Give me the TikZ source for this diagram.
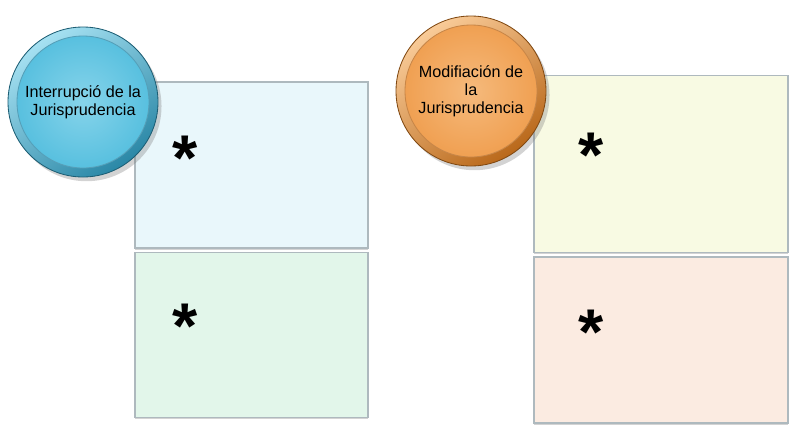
\documentclass[tikz,border=0pt]{standalone}
\usepackage{fontspec}
\setmainfont{Liberation Sans}
\usetikzlibrary{shadows}

\definecolor{bluerim}{HTML}{2A87A6}
\definecolor{blueface}{HTML}{58C0DF}
\definecolor{bluelight}{HTML}{A6E1F2}
\definecolor{orangerim}{HTML}{B9681A}
\definecolor{orangeface}{HTML}{F0A052}
\definecolor{orangelight}{HTML}{F9CB98}
\definecolor{panelrim}{HTML}{AEB9BE}
\definecolor{paleblue}{HTML}{E9F7FB}
\definecolor{palegreen}{HTML}{E2F6EA}
\definecolor{paleyellow}{HTML}{F8FAE3}
\definecolor{palepeach}{HTML}{FBEBE1}

\begin{document}
\begin{tikzpicture}[x=0.25mm,y=-0.25mm,
    panel/.style={draw=panelrim,line width=0.9pt,inner sep=0pt,
        drop shadow={shadow xshift=0pt,shadow yshift=-1.2pt,opacity=0.35}},
    rim/.style={circle,minimum size=37.5mm,inner sep=0pt,line width=0.6pt,
        drop shadow={shadow xshift=2.5pt,shadow yshift=-3pt,opacity=0.35}},
    face/.style={circle,minimum size=33mm,inner sep=0pt,align=center,
        font=\fontsize{11.5}{12.8}\selectfont},
    star/.style={font=\fontsize{46}{46}\selectfont\bfseries,inner sep=0pt}]

\useasboundingbox (0,0) rectangle (789,431);

% panels, left column
\node[panel,fill=paleblue,minimum width=58.25mm,minimum height=41.5mm] (intop) at (251.5,165) {};
\node[panel,fill=palegreen,minimum width=58.25mm,minimum height=41.25mm] (inbot) at (251.5,335) {};
% panels, right column
\node[panel,fill=paleyellow,minimum width=63.5mm,minimum height=44.25mm] (modtop) at (661,164) {};
\node[panel,fill=palepeach,minimum width=63.5mm,minimum height=41.5mm] (modbot) at (661,340) {};

\node[star] (s1) at (185,158) {*};
\node[star] (s2) at (185,326) {*};
\node[star] (s3) at (591,155) {*};
\node[star] (s4) at (591,332) {*};

% buttons
\node[rim,draw=bluerim!70!black,top color=bluelight,bottom color=bluerim,shading angle=35] (inrim) at (83,102) {};
\node[face,inner color=bluelight!60!blueface,outer color=blueface,draw=bluerim!80,line width=0.6pt] (inface) at (83,102)
    {Interrupció de la\\Jurisprudencia};

\node[rim,draw=orangerim!70!black,top color=orangelight,bottom color=orangerim,shading angle=35] (modrim) at (471,91) {};
\node[face,inner color=orangelight!60!orangeface,outer color=orangeface,draw=orangerim!80,line width=0.6pt] (modface) at (471,91)
    {Modifiación de\\la\\Jurisprudencia};

\end{tikzpicture}
\end{document}
